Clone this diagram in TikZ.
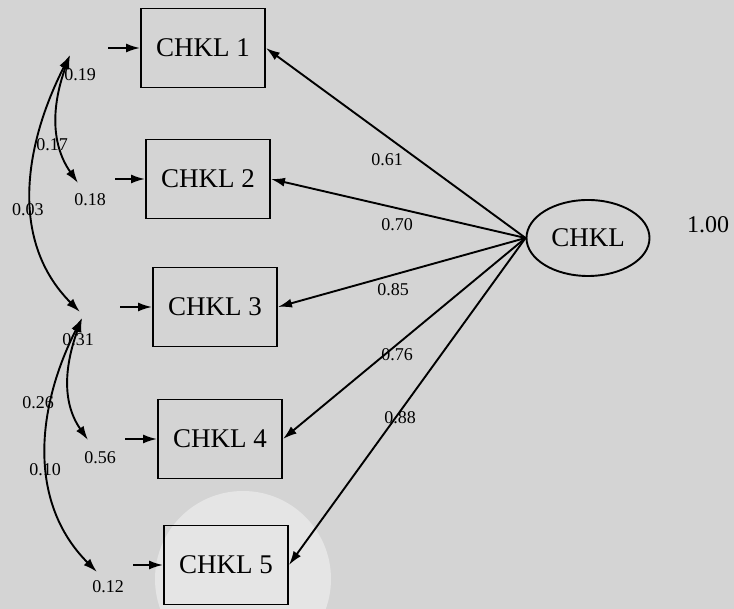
\documentclass[tikz,border=0pt]{standalone}
\usepackage{fontspec}
\setmainfont{Liberation Serif}
\usetikzlibrary{arrows.meta,shapes.geometric}
\begin{document}
\begin{tikzpicture}[x=1pt,y=1pt,line width=1.9pt,
    >={Latex[length=14pt,width=9pt]},
    box/.style={draw,minimum width=124pt,minimum height=79pt,font=\fontsize{27}{29}\selectfont},
    lat/.style={draw,ellipse,minimum width=123pt,minimum height=76pt,font=\fontsize{27}{29}\selectfont},
    val/.style={font=\fontsize{18}{20}\selectfont,inner sep=0pt}]
      \useasboundingbox (0,0) rectangle (734,609);
      \clip (0,0) rectangle (734,609);
      \fill[black!17] (0,0) rectangle (734,609);
      \fill[black!10] (243,30) circle (88);
      \draw
        (203,561) node[box] (c1){CHKL 1}
        (208,430) node[box] (c2){CHKL 2}
        (215,302) node[box] (c3){CHKL 3}
        (220,170) node[box] (c4){CHKL 4}
        (226,44) node[box] (c5){CHKL 5}
        (588,371) node[lat] (f){CHKL}
        (708,384) node[font=\fontsize{24}{26}\selectfont] (fv){1.00};
      % error terms
      \coordinate (e1) at (108,561);
      \coordinate (e2) at (115,430);
      \coordinate (e3) at (120,302);
      \coordinate (e4) at (125,170);
      \coordinate (e5) at (133,44);
      \coordinate (p1) at (70,554);
      \coordinate (p2) at (78,426);
      \coordinate (p3) at (80,297);
      \coordinate (q3) at (82,291);
      \coordinate (p4) at (88,169);
      \coordinate (p5) at (97,37);
      \draw
        (80,534) node[val] (v1){0.19}
        (90,409) node[val] (v2){0.18}
        (78,269) node[val] (v3){0.31}
        (100,151) node[val] (v4){0.56}
        (108,22) node[val] (v5){0.12}
        (52,464) node[val] (r12){0.17}
        (28,399) node[val] (r13){0.03}
        (38,206) node[val] (r34){0.26}
        (45,139) node[val] (r35){0.10}
        (387,449) node[val] (l1){0.61}
        (397,384) node[val] (l2){0.70}
        (393,319) node[val] (l3){0.85}
        (397,254) node[val] (l4){0.76}
        (400,191) node[val] (l5){0.88};
      \begin{scope}[->]
        \draw (f.west) to (c1.east);
        \draw (f.west) to (c2.east);
        \draw (f.west) to (c3.east);
        \draw (f.west) to (c4.east);
        \draw (f.west) to (c5.east);
        \draw (e1) to (c1.west);
        \draw (e2) to (c2.west);
        \draw (e3) to (c3.west);
        \draw (e4) to (c4.west);
        \draw (e5) to (c5.west);
      \end{scope}
      \begin{scope}[<->]
        \draw (p1) to[out=250,in=125] (p2);
        \draw (p1) to[out=243,in=135] (p3);
        \draw (q3) to[out=250,in=125] (p4);
        \draw (q3) to[out=243,in=135] (p5);
      \end{scope}
    \end{tikzpicture}
\end{document}
